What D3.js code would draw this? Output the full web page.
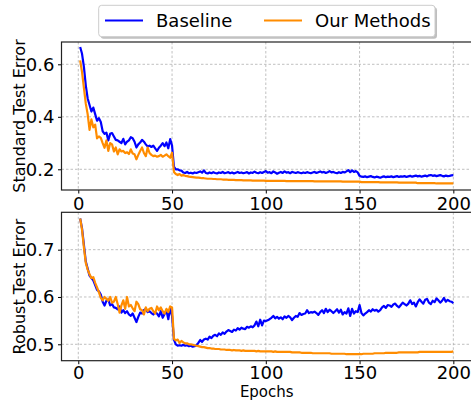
<!DOCTYPE html>
<html>
<head>
<meta charset="utf-8">
<script src="https://cdn.jsdelivr.net/npm/d3@7"></script>
<style>
html,body{margin:0;padding:0;background:#fff;}
svg{display:block;font-family:"DejaVu Sans",sans-serif;}
</style>
</head>
<body>
<svg id="chart" width="471" height="400"></svg>
<script>
// ---------- data ----------
const seriesNames = ["Baseline", "Our Methods"];
const xTicks = [0, 50, 100, 150, 200];
const stdTicks = [0.2, 0.4, 0.6];
const robTicks = [0.5, 0.6, 0.7];

// Standard test error, epochs 1..200
const stdBaseline = [
0.666,0.640,0.590,0.520,0.470,0.445,0.420,0.435,0.410,0.385,
0.395,0.380,0.345,0.335,0.340,0.310,0.335,0.338,0.325,0.312,
0.310,0.305,0.300,0.316,0.295,0.305,0.310,0.322,0.318,0.305,
0.283,0.295,0.302,0.312,0.305,0.295,0.287,0.290,0.285,0.290,
0.280,0.270,0.282,0.290,0.300,0.288,0.302,0.280,0.315,0.290,
0.210,0.200,0.200,0.196,0.195,0.188,0.186,0.190,0.185,0.187,
0.184,0.188,0.186,0.189,0.192,0.187,0.196,0.186,0.184,0.188,
0.185,0.189,0.186,0.184,0.188,0.186,0.190,0.185,0.187,0.189,
0.185,0.188,0.184,0.187,0.190,0.186,0.188,0.185,0.187,0.189,
0.184,0.188,0.186,0.191,0.187,0.185,0.189,0.186,0.190,0.193,
0.187,0.189,0.185,0.192,0.188,0.183,0.187,0.190,0.186,0.192,
0.187,0.189,0.185,0.190,0.188,0.186,0.189,0.187,0.185,0.188,
0.186,0.189,0.187,0.185,0.188,0.190,0.186,0.189,0.192,0.188,
0.190,0.186,0.189,0.193,0.188,0.190,0.187,0.185,0.189,0.186,
0.190,0.188,0.192,0.197,0.189,0.196,0.190,0.193,0.188,0.175,
0.172,0.171,0.173,0.170,0.172,0.174,0.171,0.169,0.172,0.170,
0.168,0.171,0.173,0.170,0.172,0.171,0.173,0.170,0.172,0.174,
0.171,0.173,0.172,0.174,0.171,0.173,0.175,0.172,0.174,0.176,
0.173,0.175,0.172,0.174,0.176,0.173,0.177,0.178,0.175,0.177,
0.174,0.176,0.178,0.175,0.173,0.176,0.174,0.175,0.177,0.178
];
const stdOurs = [
0.615,0.570,0.510,0.450,0.410,0.350,0.390,0.360,0.370,0.318,
0.325,0.320,0.300,0.282,0.310,0.270,0.300,0.295,0.268,0.283,
0.257,0.276,0.268,0.270,0.262,0.265,0.258,0.276,0.260,0.257,
0.238,0.255,0.270,0.283,0.262,0.250,0.283,0.262,0.255,0.250,
0.252,0.248,0.250,0.255,0.248,0.252,0.257,0.250,0.244,0.263,
0.190,0.182,0.178,0.182,0.176,0.178,0.175,0.174,0.172,0.171,
0.170,0.169,0.168,0.168,0.167,0.166,0.166,0.165,0.164,0.164,
0.164,0.163,0.163,0.162,0.162,0.162,0.161,0.161,0.161,0.160,
0.160,0.160,0.160,0.159,0.159,0.159,0.159,0.158,0.158,0.158,
0.158,0.158,0.157,0.157,0.157,0.157,0.157,0.157,0.157,0.156,
0.156,0.156,0.156,0.156,0.156,0.156,0.156,0.156,0.156,0.156,
0.155,0.155,0.155,0.155,0.155,0.155,0.155,0.155,0.155,0.155,
0.155,0.155,0.155,0.155,0.155,0.154,0.154,0.154,0.154,0.154,
0.154,0.154,0.154,0.154,0.154,0.154,0.154,0.154,0.154,0.154,
0.153,0.153,0.153,0.153,0.153,0.153,0.153,0.153,0.153,0.153,
0.151,0.151,0.151,0.151,0.151,0.151,0.151,0.151,0.151,0.151,
0.150,0.150,0.150,0.150,0.150,0.150,0.150,0.150,0.150,0.150,
0.149,0.149,0.149,0.149,0.149,0.149,0.149,0.149,0.149,0.149,
0.147,0.147,0.147,0.147,0.147,0.147,0.147,0.147,0.147,0.147,
0.146,0.146,0.146,0.146,0.146,0.146,0.146,0.146,0.146,0.146
];

// Robust test error, epochs 1..200
const robBaseline = [
0.766,0.745,0.710,0.675,0.660,0.645,0.640,0.635,0.625,0.615,
0.612,0.605,0.590,0.582,0.592,0.595,0.582,0.585,0.578,0.577,
0.574,0.580,0.567,0.572,0.566,0.570,0.563,0.560,0.565,0.556,
0.547,0.558,0.567,0.565,0.572,0.575,0.568,0.570,0.566,0.563,
0.568,0.565,0.559,0.570,0.556,0.564,0.572,0.553,0.577,0.560,
0.510,0.500,0.497,0.498,0.497,0.499,0.497,0.498,0.496,0.497,
0.495,0.496,0.498,0.503,0.509,0.505,0.510,0.512,0.510,0.516,
0.513,0.518,0.520,0.517,0.523,0.520,0.525,0.522,0.527,0.530,
0.528,0.526,0.531,0.529,0.534,0.531,0.535,0.533,0.532,0.537,
0.535,0.538,0.536,0.540,0.548,0.538,0.552,0.540,0.550,0.549,
0.551,0.553,0.556,0.560,0.555,0.558,0.554,0.557,0.553,0.559,
0.556,0.560,0.557,0.551,0.556,0.560,0.558,0.566,0.562,0.564,
0.565,0.572,0.566,0.568,0.567,0.569,0.566,0.562,0.568,0.572,
0.566,0.575,0.568,0.573,0.570,0.566,0.570,0.574,0.567,0.573,
0.563,0.568,0.565,0.576,0.560,0.575,0.565,0.570,0.568,0.583,
0.566,0.561,0.565,0.568,0.572,0.569,0.574,0.571,0.573,0.569,
0.572,0.578,0.581,0.577,0.583,0.582,0.579,0.584,0.586,0.581,
0.578,0.583,0.588,0.585,0.582,0.586,0.593,0.585,0.588,0.580,
0.589,0.595,0.590,0.586,0.594,0.596,0.588,0.585,0.592,0.589,
0.597,0.593,0.588,0.592,0.598,0.590,0.594,0.591,0.590,0.587
];
const robOurs = [
0.766,0.742,0.705,0.672,0.658,0.648,0.640,0.642,0.630,0.620,
0.610,0.598,0.593,0.600,0.596,0.592,0.600,0.588,0.590,0.600,
0.585,0.567,0.582,0.593,0.575,0.600,0.580,0.583,0.576,0.570,
0.590,0.585,0.574,0.572,0.563,0.578,0.570,0.575,0.577,0.570,
0.565,0.580,0.572,0.578,0.570,0.565,0.575,0.568,0.580,0.578,
0.512,0.508,0.510,0.503,0.507,0.504,0.502,0.502,0.500,0.500,
0.499,0.498,0.497,0.496,0.495,0.494,0.494,0.493,0.492,0.492,
0.491,0.491,0.490,0.490,0.490,0.489,0.489,0.489,0.488,0.488,
0.488,0.487,0.488,0.487,0.487,0.487,0.486,0.487,0.486,0.486,
0.486,0.486,0.486,0.486,0.485,0.486,0.485,0.485,0.485,0.485,
0.485,0.485,0.485,0.484,0.485,0.484,0.484,0.484,0.484,0.484,
0.484,0.484,0.484,0.483,0.483,0.483,0.483,0.483,0.482,0.482,
0.482,0.482,0.482,0.482,0.481,0.481,0.481,0.481,0.481,0.481,
0.481,0.481,0.481,0.481,0.480,0.480,0.480,0.480,0.480,0.480,
0.480,0.480,0.479,0.479,0.479,0.479,0.479,0.479,0.479,0.479,
0.479,0.480,0.480,0.480,0.480,0.480,0.480,0.481,0.481,0.481,
0.481,0.481,0.481,0.482,0.482,0.482,0.482,0.482,0.482,0.482,
0.483,0.483,0.483,0.483,0.483,0.483,0.483,0.483,0.483,0.483,
0.483,0.484,0.484,0.484,0.484,0.484,0.484,0.484,0.484,0.484,
0.484,0.484,0.484,0.484,0.484,0.484,0.484,0.484,0.484,0.485
];

// ---------- drawing ----------
const colors = ["#0000ff", "#ff8c00"];
const svg = d3.select("#chart");
const left = 61.5, right = 472;
const x = d3.scaleLinear().domain([-8.95, 209.95]).range([left, right]);

const panels = [
  {label: "Standard Test Error", top: 42, bottom: 190, domain: [0.1211, 0.685], ticks: stdTicks, fmt: d3.format(".1f"), series: [stdBaseline, stdOurs], pad: 3.5},
  {label: "Robust Test Error", top: 212.3, bottom: 360.7, domain: [0.4653, 0.779], ticks: robTicks, fmt: d3.format(".1f"), series: [robBaseline, robOurs], pad: 2}
];

panels.forEach((p, pi) => {
  const y = d3.scaleLinear().domain(p.domain).range([p.bottom, p.top]);
  const g = svg.append("g");
  const cid = "clip" + pi;
  svg.append("defs").append("clipPath").attr("id", cid)
    .append("rect").attr("x", left).attr("y", p.top).attr("width", right - left).attr("height", p.bottom - p.top);

  // grid
  const grid = g.append("g").attr("stroke", "#b0b0b0").attr("stroke-width", 0.8).attr("stroke-dasharray", "2.5,2");
  xTicks.forEach(t => grid.append("line").attr("x1", x(t)).attr("x2", x(t)).attr("y1", p.top).attr("y2", p.bottom));
  p.ticks.forEach(t => grid.append("line").attr("x1", left).attr("x2", right).attr("y1", y(t)).attr("y2", y(t)));

  // lines
  const line = d3.line().x((d, i) => x(i + 1)).y(d => y(d));
  p.series.forEach((s, si) => {
    g.append("path").datum(s).attr("d", line)
      .attr("fill", "none").attr("stroke", colors[si]).attr("stroke-width", 2.2)
      .attr("stroke-linejoin", "round").attr("clip-path", `url(#${cid})`);
  });

  // axes
  const xAxis = d3.axisBottom(x).tickValues(xTicks).tickSize(3.5).tickPadding(p.pad).tickFormat(d3.format("d"));
  const ax = g.append("g").attr("transform", `translate(0,${p.bottom})`).call(xAxis);
  const yAxis = d3.axisLeft(y).tickValues(p.ticks).tickSize(3.5).tickPadding(3.5).tickFormat(p.fmt);
  const ay = g.append("g").attr("transform", `translate(${left},0)`).call(yAxis);
  [ax, ay].forEach(a => {
    a.select(".domain").remove();
    a.selectAll("text").attr("font-size", 18).attr("font-family", "DejaVu Sans").attr("fill", "#000");
    a.selectAll(".tick line").attr("stroke", "#000").attr("stroke-width", 1);
  });

  // spines
  g.append("rect").attr("x", left).attr("y", p.top).attr("width", right - left).attr("height", p.bottom - p.top)
    .attr("fill", "none").attr("stroke", "#222").attr("stroke-width", 1.2);

  // y label
  g.append("text").attr("transform", `translate(24.5,${(p.top + p.bottom) / 2}) rotate(-90)`)
    .attr("text-anchor", "middle").attr("font-size", 16).attr("fill", "#000").text(p.label);
});

// x label
svg.append("text").attr("x", (left + right) / 2).attr("y", 397).attr("text-anchor", "middle")
  .attr("font-size", 15).attr("fill", "#000").text("Epochs");

// legend
const lg = svg.append("g");
lg.append("rect").attr("x", 100.7).attr("y", 7.3).attr("width", 336.3).attr("height", 31.4).attr("rx", 3)
  .attr("fill", "#808080").attr("opacity", 0.5);
lg.append("rect").attr("x", 98.7).attr("y", 5.3).attr("width", 336.3).attr("height", 31.4).attr("rx", 3)
  .attr("fill", "#fff").attr("stroke", "#cccccc").attr("stroke-width", 1);
const legendX = [105, 264];
seriesNames.forEach((n, i) => {
  lg.append("line").attr("x1", legendX[i]).attr("x2", legendX[i] + 38).attr("y1", 20.5).attr("y2", 20.5)
    .attr("stroke", colors[i]).attr("stroke-width", 2.2);
  lg.append("text").attr("x", legendX[i] + 51).attr("y", 27).attr("font-size", 18).attr("fill", "#000").text(n);
});
</script>
</body>
</html>
